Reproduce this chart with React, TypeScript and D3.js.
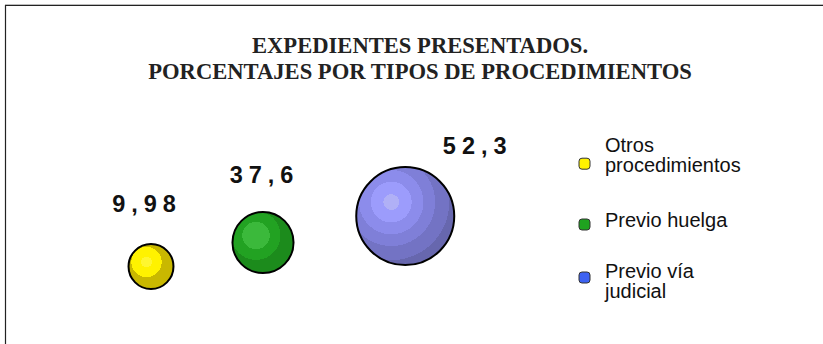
import React from "react";
import * as d3 from "d3";

// ---- data ----
const categories = ["Otros procedimientos", "Previo huelga", "Previo vía judicial"];
const values = [9.98, 37.6, 52.3];
const valueLabels = ["9,98", "37,6", "52,3"];
const bubbleX = [1, 2, 3.27];
const bubbleY = [1, 2, 3.1];
const bubbleSize = [11, 20.3, 52.3];
const legendLines = [["Otros", "procedimientos"], ["Previo huelga"], ["Previo vía", "judicial"]];
const titleLines = ["EXPEDIENTES PRESENTADOS.", "PORCENTAJES POR TIPOS DE PROCEDIMIENTOS"];

// ---- styles / layout ----
const legendColors = ["#FFF200", "#1FA31F", "#3D62F2"];
const gradBands: { cx: number; r: number; stops: [number, string][] }[] = [
  { cx: 0.4, r: 0.6, stops: [[0, "#FFF630"], [0.2, "#FFF630"], [0.2, "#FFF200"], [0.56, "#FFF200"], [0.56, "#C9B800"], [1, "#C9B800"]] },
  {
    cx: 0.385, r: 0.8, stops: [[0, "#3BB93B"], [0.28, "#3BB93B"], [0.28, "#22A222"], [0.5, "#22A222"], [0.5, "#1C8B1C"], [1, "#1C8B1C"]],
  },
  {
    cx: 0.357, r: 0.8, stops: [
      [0, "#B0B0F6"], [0.1, "#B0B0F6"], [0.1, "#9C9CFC"], [0.26, "#9C9CFC"], [0.26, "#8C8CEB"], [0.41, "#8C8CEB"],
      [0.41, "#7F7FD8"], [0.56, "#7F7FD8"], [0.56, "#7373C4"], [0.74, "#7373C4"], [0.74, "#6767AE"], [1, "#6767AE"],
    ],
  },
];
const labelDx = [-7, -1.5, 69.5];
const labelDy = [-54.5, -59.5, -62];
const legendMarkerY = [163.7, 224.5, 277.5];
const legendTextY = [152, 227, 277.5];

export default function App() {
  const W = 823, H = 344;
  const x = d3.scaleLinear().domain([0, 4]).range([39, 487]);
  const y = d3.scaleLinear().domain([0, 4]).range([290.5, 194.5]);
  const r = d3.scaleSqrt().domain([0, 52.3]).range([0, 49]);
  const ls = 6;

  return (
    <svg width={W} height={H} style={{ position: "absolute", left: 0, top: 0, background: "#fff" }}>
      <defs>
        {gradBands.map((g, i) => (
          <radialGradient key={i} id={`g${i}`} cx={g.cx} cy={g.cx} fx={g.cx} fy={g.cx} r={g.r}>
            {g.stops.map(([o, c], j) => (
              <stop key={j} offset={o} stopColor={c} />
            ))}
          </radialGradient>
        ))}
      </defs>
      <rect x={0} y={0} width={W} height={H} fill="#fff" />
      <line x1={5} x2={W} y1={4.5} y2={4.5} stroke="#bbb" strokeWidth={1} />
      <path d={`M5.5,${H} V5.5 H${W}`} fill="none" stroke="#222" strokeWidth={1.2} />

      {titleLines.map((t, i) => (
        <text key={i} x={420} y={53 + i * 26} textAnchor="middle" fontFamily="Liberation Serif, Times New Roman, serif"
          fontWeight="bold" fontSize={22.6} fill="#222">{t}</text>
      ))}

      {values.map((v, i) => {
        const cx = x(bubbleX[i]), cy = y(bubbleY[i]), rr = r(bubbleSize[i]);
        return (
          <g key={categories[i]}>
            <circle cx={cx} cy={cy} r={rr} fill={`url(#g${i})`} stroke="#000" strokeWidth={2} />
            <text x={cx + labelDx[i] + ls / 2} y={cy + labelDy[i]} textAnchor="middle"
              fontFamily="Liberation Sans, Arial, sans-serif" fontWeight="bold" fontSize={23.5} letterSpacing={ls} fill="#111">
              {valueLabels[i]}
            </text>
          </g>
        );
      })}

      {categories.map((c, i) => {
        const my = legendMarkerY[i];
        const lines = legendLines[i];
        return (
          <g key={c}>
            <rect x={579} y={my - 5.5} width={11} height={11} rx={3} fill={legendColors[i]} stroke="#333" strokeWidth={1} />
            {lines.map((l, j) => (
              <text key={j} x={605} y={legendTextY[i] + j * 20} fontFamily="Liberation Sans, Arial, sans-serif"
                fontSize={20} fill="#111">{l}</text>
            ))}
          </g>
        );
      })}
    </svg>
  );
}
